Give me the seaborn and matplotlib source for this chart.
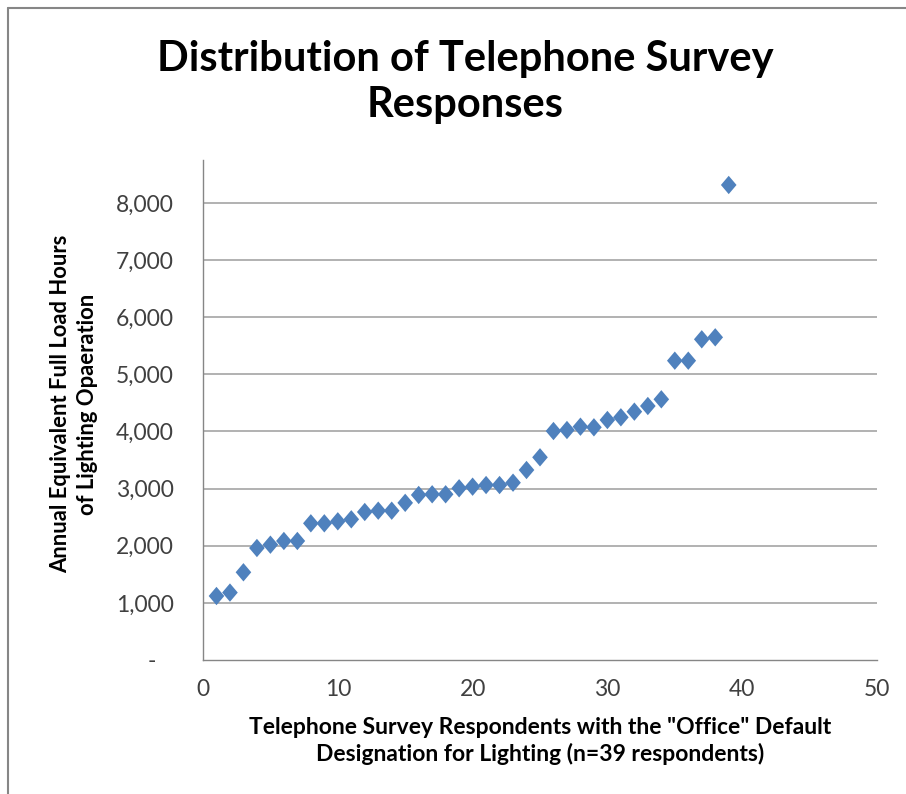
import matplotlib
matplotlib.use("Agg")
import matplotlib.pyplot as plt
from matplotlib.lines import Line2D
from matplotlib.ticker import FuncFormatter
import seaborn as sns
import pandas as pd

# Respondent index and annual equivalent full load hours (sorted ascending)
respondents = list(range(1, 40))
hours = [1120, 1180, 1535, 1960, 2018, 2083, 2083, 2392, 2392, 2427,
         2462, 2590, 2613, 2613, 2750, 2888, 2900, 2900, 3005, 3033,
         3062, 3062, 3103, 3325, 3547, 4007, 4025, 4083, 4072, 4200,
         4247, 4346, 4445, 4562, 5238, 5238, 5612, 5647, 8313]

y_ticks = [0, 1000, 2000, 3000, 4000, 5000, 6000, 7000, 8000]
x_ticks = [0, 10, 20, 30, 40, 50]

title = "Distribution of Telephone Survey\nResponses"
x_label = 'Telephone Survey Respondents with the "Office" Default\nDesignation for Lighting (n=39 respondents)'
y_label = "Annual Equivalent Full Load Hours\nof Lighting Opaeration"

df = pd.DataFrame({"respondent": respondents, "hours": hours})

sns.set_style("white")
plt.rcParams["font.family"] = ["Lato", "DejaVu Sans"]

W, H = 906, 794
fig = plt.figure(figsize=(W / 100, H / 100), dpi=100)
ax = fig.add_axes([203 / W, 1 - 660 / H, (877 - 203) / W, (660 - 160) / H])

diamond = [(0, 1), (0.85, 0), (0, -1), (-0.85, 0), (0, 1)]
sns.scatterplot(data=df, x="respondent", y="hours", ax=ax, marker=diamond,
                s=175, color="#4F81BD", edgecolor="none", linewidth=0,
                zorder=3, legend=False)

ax.set_xlim(0, 50)
ax.set_ylim(0, 8750)
ax.set_xticks(x_ticks)
ax.set_yticks(y_ticks)
# accounting-style labels: zero shown as a dash set in from the right
ax.yaxis.set_major_formatter(FuncFormatter(lambda v, p: "-   " if v == 0 else f"{int(v):,}"))

for yv in y_ticks[1:]:
    ax.axhline(yv, color="#ABABAB", linewidth=1.3, zorder=1)

for side in ["top", "right"]:
    ax.spines[side].set_visible(False)
for side in ["left", "bottom"]:
    ax.spines[side].set_color("#868686")
    ax.spines[side].set_linewidth(1.0)

ax.tick_params(axis="both", which="major", direction="out", length=7,
               width=1.0, color="#868686", labelsize=16.5, labelcolor="#404040")
ax.tick_params(axis="y", pad=14)
ax.tick_params(axis="x", pad=7)

ax.set_xlabel("")
ax.set_ylabel("")

fig.text(465 / W, 1 - 82 / H, title, ha="center", va="center",
         fontsize=30, fontweight="bold", color="black", linespacing=1.28)
fig.text(540 / W, 1 - 741 / H, x_label, ha="center", va="center",
         fontsize=16.5, fontweight="bold", color="black", linespacing=1.3)
fig.text(74 / W, 1 - 404 / H, y_label, ha="center", va="center", rotation=90,
         fontsize=15.8, fontweight="bold", color="black", linespacing=1.35)

# Chart frame along the top and left edges
fig.add_artist(Line2D([8 / W, 8 / W], [0, 1 - 8 / H], transform=fig.transFigure,
                      color="#868686", linewidth=1.5))
fig.add_artist(Line2D([8 / W, 1], [1 - 8 / H, 1 - 8 / H], transform=fig.transFigure,
                      color="#868686", linewidth=1.5))

fig.savefig("out.png", dpi=100)
